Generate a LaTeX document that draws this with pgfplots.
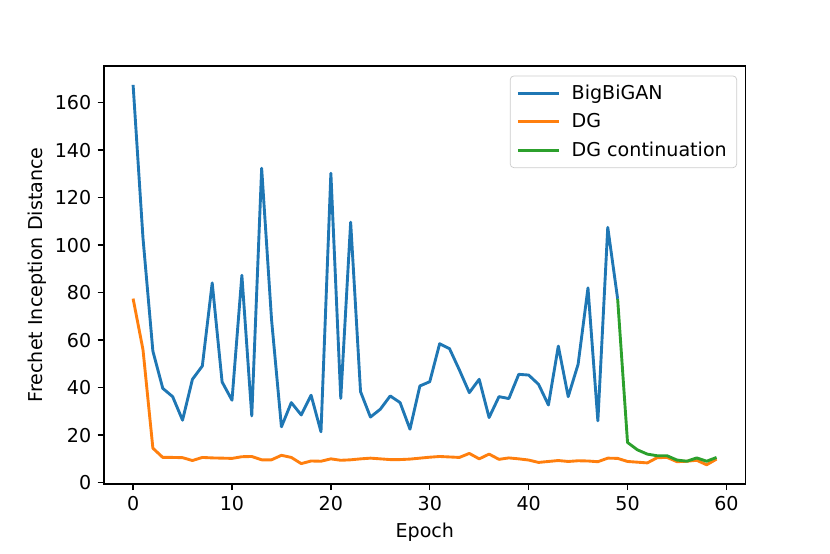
\documentclass[border=0pt]{standalone}
\usepackage{fontspec}
\setmainfont{DejaVu Sans}
\usepackage{pgfplots}
\pgfplotsset{compat=1.18}
\definecolor{tabblue}{HTML}{1F77B4}
\definecolor{taborange}{HTML}{FF7F0E}
\definecolor{tabgreen}{HTML}{2CA02C}
\begin{document}
\begin{tikzpicture}
\begin{axis}[
  name=ax,
  scale only axis, width=356.3pt, height=232pt,
  xmin=-2.95, xmax=61.95, ymin=-0.5, ymax=175.5,
  xtick={0,10,...,60}, ytick={0,20,...,160},
  tick align=outside, tick pos=left, major tick length=3.5pt,
  every tick/.style={black, line width=0.8pt},
  axis line style={line width=0.8pt},
  tick label style={font=\fontsize{10.6}{12.7}\selectfont},
  /pgf/number format/assume math mode=true,
  label style={font=\fontsize{10.6}{12.7}\selectfont},
  xlabel={Epoch}, ylabel={Frechet Inception Distance},
  ylabel style={yshift=-2pt},
  legend style={at={(0.9865,0.9767)}, anchor=north east, draw=black!20, rounded corners=2pt,
    font=\fontsize{10.6}{12.7}\selectfont, row sep=2.4pt, inner xsep=3.5pt, inner ysep=2.8pt},
  legend cell align=left,
  legend image code/.code={\draw[#1] (0pt,0pt) -- (22.7pt,0pt); \path (27pt,0pt);},
]
\addplot[tabblue, line width=1.6pt, line join=round] coordinates {
(0,167.5)(1,103)(2,55.4)(3,39.7)(4,36.2)(5,26.3)(6,43.5)(7,49.1)(8,84.1)(9,42.4)
(10,34.7)(11,87.3)(12,28.1)(13,132.4)(14,68.7)(15,23.5)(16,33.7)(17,28.5)(18,36.8)(19,21.4)
(20,130.3)(21,35.5)(22,109.7)(23,38.3)(24,27.6)(25,30.9)(26,36.5)(27,33.7)(28,22.5)(29,40.7)
(30,42.5)(31,58.5)(32,56.4)(33,47.4)(34,37.9)(35,43.5)(36,27.4)(37,36.2)(38,35.4)(39,45.6)
(40,45.3)(41,41.4)(42,32.7)(43,57.5)(44,36.2)(45,49.8)(46,82.0)(47,26.0)(48,107.5)(49,77.4)
};
\addlegendentry{BigBiGAN}
\addplot[taborange, line width=1.6pt, line join=round] coordinates {
(0,77.5)(1,56)(2,14.5)(3,10.6)(4,10.6)(5,10.5)(6,9.3)(7,10.6)(8,10.4)(9,10.3)
(10,10.2)(11,10.9)(12,11.0)(13,9.6)(14,9.6)(15,11.5)(16,10.6)(17,8.0)(18,9.1)(19,9.0)
(20,10.0)(21,9.4)(22,9.6)(23,10.0)(24,10.3)(25,10.0)(26,9.7)(27,9.7)(28,9.9)(29,10.3)
(30,10.7)(31,11.0)(32,10.8)(33,10.6)(34,12.3)(35,10.0)(36,12.0)(37,9.8)(38,10.4)(39,10.0)
(40,9.5)(41,8.5)(42,8.9)(43,9.3)(44,8.9)(45,9.2)(46,9.1)(47,8.8)(48,10.3)(49,10.2)
(50,8.9)(51,8.6)(52,8.3)(53,10.5)(54,10.6)(55,8.8)(56,9.0)(57,9.4)(58,7.5)(59,9.9)
};
\addlegendentry{DG}
\addplot[tabgreen, line width=1.6pt, line join=round] coordinates {
(49,77.4)(50,16.9)(51,13.8)(52,12.0)(53,11.3)(54,11.3)(55,9.5)(56,9.0)(57,10.4)(58,9.0)(59,10.6)
};
\addlegendentry{DG continuation}
\end{axis}
\path[use as bounding box] ([shift={(-57.7pt,-38.9pt)}]ax.south west) rectangle ([shift={(46.8pt,36.6pt)}]ax.north east);
\end{tikzpicture}
\end{document}
